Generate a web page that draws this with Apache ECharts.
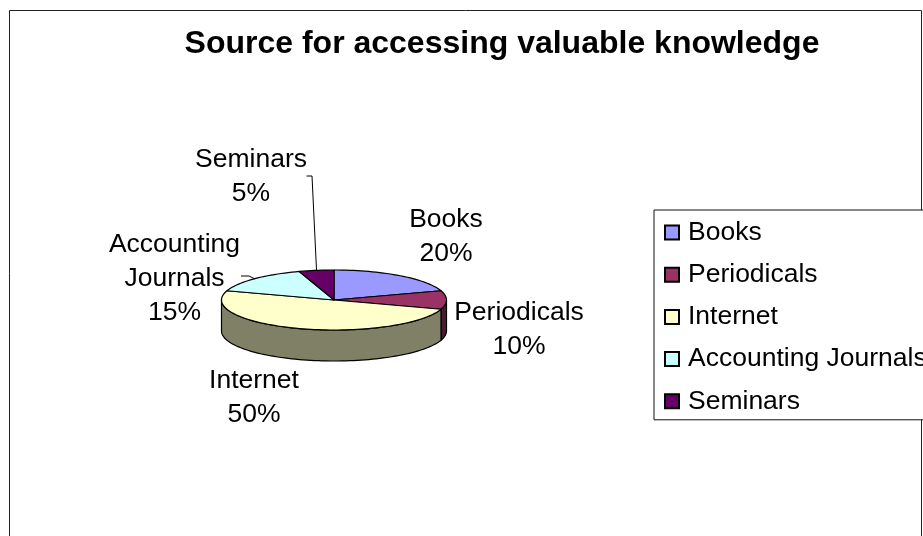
<!DOCTYPE html>
<html>
<head>
<meta charset="utf-8">
<style>html,body{margin:0;padding:0;background:#fff;overflow:hidden}#c{width:923px;height:536px}</style>
<script src="https://cdn.jsdelivr.net/npm/echarts@6/dist/echarts.min.js"></script>
</head>
<body>
<div id="c"></div>
<script>
var categories = ['Books', 'Periodicals', 'Internet', 'Accounting Journals', 'Seminars'];
var seriesValues = [20, 10, 50, 15, 5];
var titleText = 'Source for accessing valuable knowledge';

var topColors = ['#9999FF', '#993366', '#FFFFCC', '#CCFFFF', '#660066'];
var sideColors = ['#4D4D80', '#4D1A33', '#808066', '#668080', '#330033'];
var labelLines = [['Books'], ['Periodicals'], ['Internet'], ['Accounting', 'Journals'], ['Seminars']];
var labelCenters = [[446, 237], [519, 330], [254, 398], [174.5, 279], [251, 177]];
var leaderLines = [null, null, null,
  [[241, 276], [249, 276], [255, 279]],
  [[306.5, 176], [312, 176], [316.5, 270]]];

var FONT = '"Liberation Sans", Arial, sans-serif';
var CX = 334, CY = 300, RX = 112.5, RY = 30, DEPTH = 31;
var total = seriesValues.reduce(function (a, b) { return a + b; }, 0);

function rim(deg, dy) {
  var r = deg * Math.PI / 180;
  return [CX + RX * Math.sin(r), CY - RY * Math.cos(r) + (dy || 0)];
}
function arc(a, b, dy) {
  var pts = [], n = Math.max(2, Math.ceil(Math.abs(b - a) / 2));
  for (var i = 0; i <= n; i++) pts.push(rim(a + (b - a) * i / n, dy));
  return pts;
}
function renderSlice(params, api) {
  var idx = params.seriesIndex, value = api.value(0);
  var before = 0;
  for (var i = 0; i < idx; i++) before += seriesValues[i];
  var a = before / total * 360, b = (before + value) / total * 360;
  var kids = [];
  var lineStyle = { stroke: '#000', lineWidth: 1.2, lineJoin: 'round' };
  var sa = Math.max(a, 90), sb = Math.min(b, 270);
  if (sb > sa) {
    kids.push({
      type: 'polygon',
      shape: { points: arc(sa, sb, 0).concat(arc(sb, sa, DEPTH)) },
      style: Object.assign({ fill: sideColors[idx] }, lineStyle)
    });
  }
  kids.push({
    type: 'polygon',
    shape: { points: [[CX, CY]].concat(arc(a, b, 0)) },
    style: Object.assign({ fill: topColors[idx] }, lineStyle)
  });
  if (leaderLines[idx]) {
    kids.push({
      type: 'polyline',
      shape: { points: leaderLines[idx] },
      style: { stroke: '#000', lineWidth: 1, fill: null }
    });
  }
  kids.push({
    type: 'text',
    style: {
      x: labelCenters[idx][0], y: labelCenters[idx][1],
      text: labelLines[idx].concat([Math.round(value / total * 100) + '%']).join('\n'),
      font: '26.5px ' + FONT, lineHeight: 34,
      align: 'center', verticalAlign: 'middle', fill: '#000'
    }
  });
  return { type: 'group', children: kids };
}

var chart = echarts.init(document.getElementById('c'), null, { renderer: 'canvas' });
chart.setOption({
  animation: false,
  backgroundColor: '#fff',
  title: {
    text: titleText, left: 497, top: 23, textAlign: 'center',
    textStyle: { fontFamily: FONT, fontWeight: 'bold', fontSize: 32, color: '#000' }
  },
  graphic: [{
    type: 'rect', z: -1, silent: true,
    shape: { x: 9.5, y: 10.5, width: 912, height: 560 },
    style: { fill: '#fff', stroke: '#222', lineWidth: 1 }
  }],
  legend: {
    orient: 'vertical', left: 654, top: 210,
    width: 400,
    padding: [9, 30, 5, 10],
    backgroundColor: '#fff', borderColor: '#111', borderWidth: 1, borderRadius: 0,
    itemWidth: 14, itemHeight: 14, itemGap: 15.2, icon: 'rect',
    textStyle: { fontFamily: FONT, fontSize: 26.5, color: '#000', padding: [0, 0, 0, 4] },
    selectedMode: false,
    data: categories
  },
  series: categories.map(function (name, i) {
    return {
      type: 'custom', name: name, coordinateSystem: 'none',
      renderItem: renderSlice,
      itemStyle: { color: topColors[i], borderColor: '#000', borderWidth: 1 },
      data: [[seriesValues[i]]],
      silent: true
    };
  })
});
</script>
</body>
</html>
